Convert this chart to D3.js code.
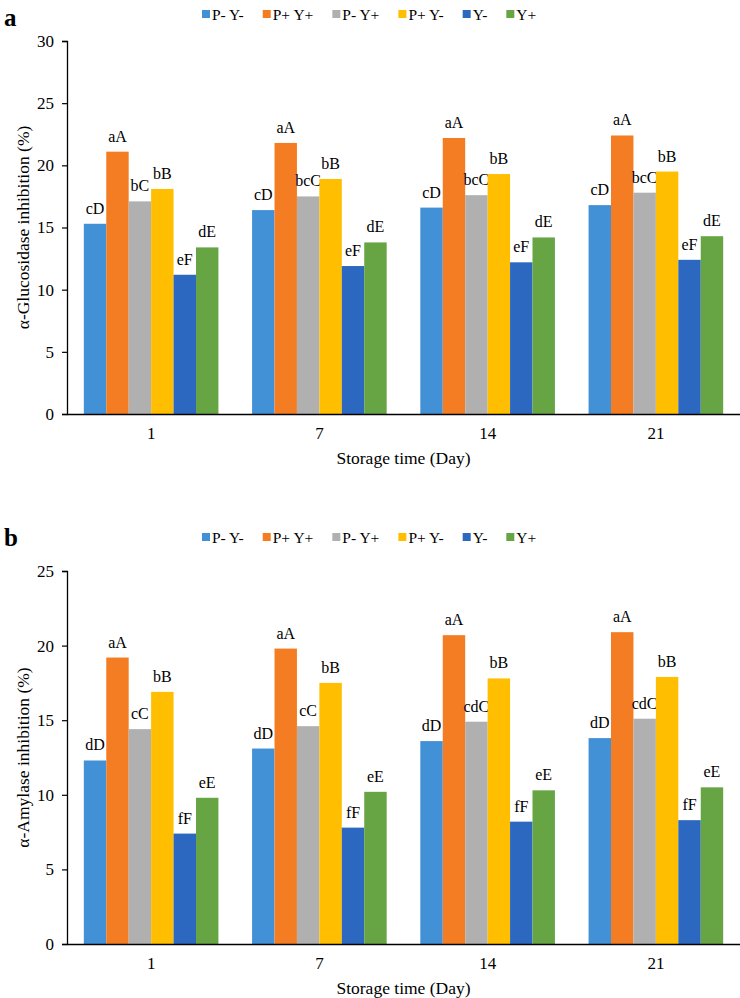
<!DOCTYPE html>
<html><head><meta charset="utf-8">
<script src="https://cdn.jsdelivr.net/npm/d3@7"></script>
<style>body{margin:0;background:#fff}svg{display:block}text{font-family:"Liberation Serif","Times New Roman",serif;fill:#000}</style>
</head><body>
<script>
const days = ["1", "7", "14", "21"];
const seriesNames = ["P- Y-", "P+ Y+", "P- Y+", "P+ Y-", "Y-", "Y+"];
const seriesColors = ["#4290d6", "#f47d23", "#b0b0b0", "#ffbe00", "#2d68c0", "#67a544"];

// Panel a: α-Glucosidase inhibition (%), one array per series across days
const glucP0Y0 = [15.3, 16.4, 16.6, 16.8];
const glucP1Y1 = [21.1, 21.8, 22.2, 22.4];
const glucP0Y1 = [17.1, 17.5, 17.6, 17.8];
const glucP1Y0 = [18.1, 18.9, 19.3, 19.5];
const glucY0   = [11.2, 11.9, 12.2, 12.4];
const glucY1   = [13.4, 13.8, 14.2, 14.3];
const glucLetters = [
  ["cD", "aA", "bC", "bB", "eF", "dE"],
  ["cD", "aA", "bcC", "bB", "eF", "dE"],
  ["cD", "aA", "bcC", "bB", "eF", "dE"],
  ["cD", "aA", "bcC", "bB", "eF", "dE"]
];
const glucTicks = [0, 5, 10, 15, 20, 25, 30];

// Panel b: α-Amylase inhibition (%)
const amylP0Y0 = [12.3, 13.1, 13.6, 13.8];
const amylP1Y1 = [19.2, 19.8, 20.7, 20.9];
const amylP0Y1 = [14.4, 14.6, 14.9, 15.1];
const amylP1Y0 = [16.9, 17.5, 17.8, 17.9];
const amylY0   = [7.4, 7.8, 8.2, 8.3];
const amylY1   = [9.8, 10.2, 10.3, 10.5];
const amylLetters = [
  ["dD", "aA", "cC", "bB", "fF", "eE"],
  ["dD", "aA", "cC", "bB", "fF", "eE"],
  ["dD", "aA", "cdC", "bB", "fF", "eE"],
  ["dD", "aA", "cdC", "bB", "fF", "eE"]
];
const amylTicks = [0, 5, 10, 15, 20, 25];

const W = 740, H = 998;
const svg = d3.select("body").append("svg").attr("width", W).attr("height", H);

function panel(cfg) {
  const g = svg.append("g");
  const left = 67, right = 740;
  const x0 = d3.scaleBand().domain(days).range([left, right]).paddingInner(0.2).paddingOuter(0.1);
  const x1 = d3.scaleBand().domain(seriesNames).range([0, x0.bandwidth()]);
  const y = d3.scaleLinear().domain([0, cfg.max]).range([cfg.bottom, cfg.top]);

  // panel letter
  g.append("text").attr("x", 4).attr("y", cfg.letterY).attr("font-size", 25).attr("font-weight", "bold").text(cfg.letter);

  // legend
  const leg = g.append("g");
  let lx = 202;
  seriesNames.forEach((s, i) => {
    leg.append("rect").attr("x", lx).attr("y", cfg.legendY - 4).attr("width", 8).attr("height", 8).attr("fill", seriesColors[i]);
    const t = leg.append("text").attr("x", lx + 10).attr("y", cfg.legendY + 5.5).attr("font-size", 15.5).text(s);
    lx += 10 + t.node().getComputedTextLength() + 19;
  });

  // bars
  const groups = g.selectAll(".grp").data(days).join("g").attr("transform", d => `translate(${x0(d)},0)`);
  groups.each(function (d, di) {
    const gg = d3.select(this);
    seriesNames.forEach((s, si) => {
      const v = cfg.series[si][di];
      gg.append("rect").attr("x", x1(s)).attr("width", x1.bandwidth()).attr("y", y(v)).attr("height", y(0) - y(v)).attr("fill", seriesColors[si]);
      gg.append("text").attr("x", x1(s) + x1.bandwidth() / 2).attr("y", y(v) - 10).attr("text-anchor", "middle").attr("font-size", 16).text(cfg.letters[di][si]);
    });
  });

  // y axis
  const ya = g.append("g").attr("transform", `translate(${left},0)`)
    .call(d3.axisLeft(y).tickValues(cfg.ticks).tickSize(5).tickPadding(8).tickFormat(d3.format("d")));
  ya.select(".domain").attr("stroke", "#000").attr("stroke-width", 1.3);
  ya.selectAll(".tick line").attr("stroke", "#000").attr("stroke-width", 1.2);
  ya.selectAll("text").attr("font-size", 17).attr("font-family", '"Liberation Serif", serif').attr("fill", "#000");

  // x axis
  const xa = g.append("g").attr("transform", `translate(0,${cfg.bottom})`)
    .call(d3.axisBottom(x0).tickSize(0).tickPadding(13).tickSizeOuter(0));
  xa.select(".domain").attr("stroke", "#000").attr("stroke-width", 1.5);
  xa.selectAll("text").attr("font-size", 17).attr("font-family", '"Liberation Serif", serif').attr("fill", "#000");

  // axis titles
  g.append("text").attr("x", (left + right) / 2).attr("y", cfg.bottom + 50).attr("text-anchor", "middle").attr("font-size", 17.5).text("Storage time (Day)");
  g.append("text").attr("transform", `translate(29,${(cfg.top + cfg.bottom) / 2}) rotate(-90)`).attr("text-anchor", "middle").attr("font-size", 17.5).text(cfg.yTitle);
}

panel({
  letter: "a", letterY: 26, legendY: 14, top: 41, bottom: 414, max: 30, ticks: glucTicks,
  series: [glucP0Y0, glucP1Y1, glucP0Y1, glucP1Y0, glucY0, glucY1], letters: glucLetters,
  yTitle: "α-Glucosidase inhibition (%)"
});
panel({
  letter: "b", letterY: 546, legendY: 537, top: 571, bottom: 944, max: 25, ticks: amylTicks,
  series: [amylP0Y0, amylP1Y1, amylP0Y1, amylP1Y0, amylY0, amylY1], letters: amylLetters,
  yTitle: "α-Amylase inhibition (%)"
});
</script>
</body></html>
